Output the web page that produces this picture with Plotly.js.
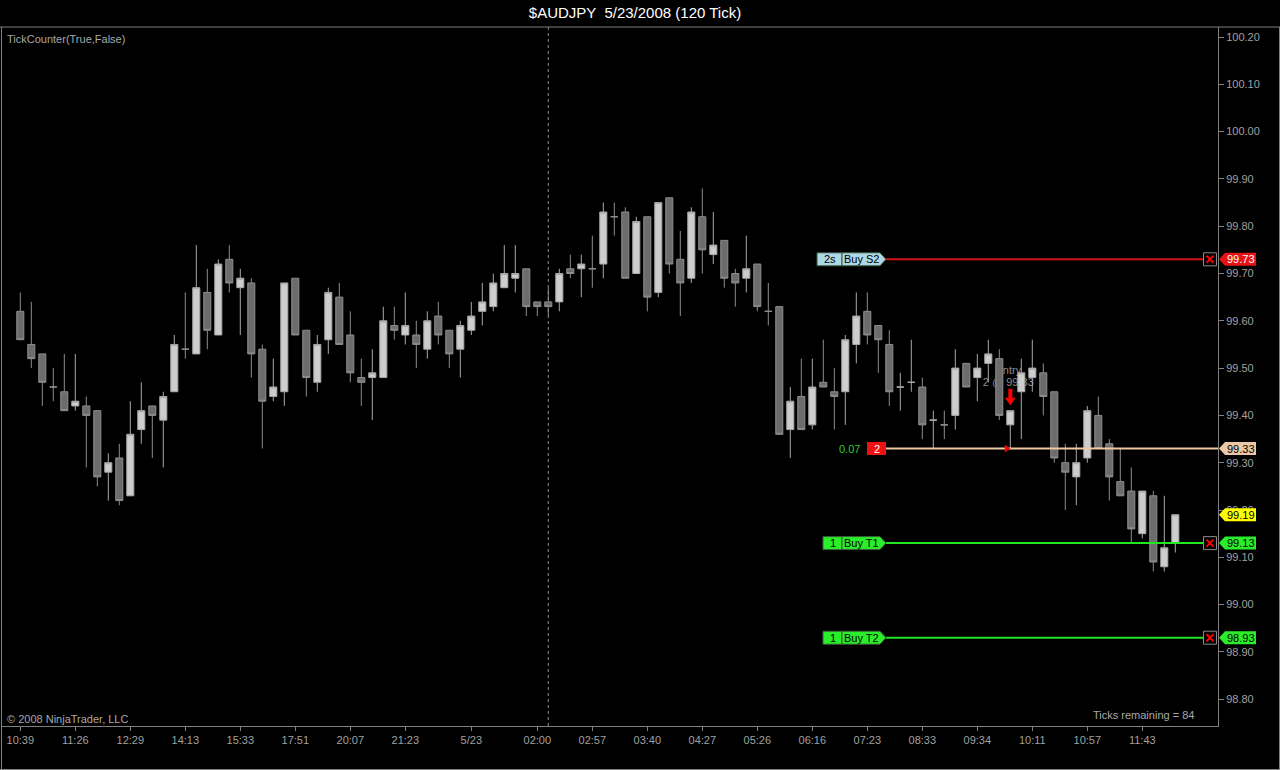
<!DOCTYPE html>
<html><head><meta charset="utf-8">
<script src="https://cdn.plot.ly/plotly-3.0.1.min.js"></script>
<style>html,body{margin:0;padding:0;background:#000;overflow:hidden}#chart{width:1280px;height:770px}</style>
</head><body><div id="chart"></div>
<script>
// ---------------- data ----------------
const tickIndex  = [0,5,10,15,20,25,30,35,41,47,52,57,62,67,72,77,82,87,92,97,102];
const tickLabels = ['10:39','11:26','12:29','14:13','15:33','17:51','20:07','21:23','5/23','02:00','02:57','03:40','04:27','05:26','06:16','07:23','08:33','09:34','10:11','10:57','11:43'];

const open = [99.62,99.55,99.53,99.46,99.45,99.42,99.42,99.41,99.28,99.31,
99.23,99.37,99.42,99.39,99.45,99.54,99.53,99.66,99.57,99.73,
99.67,99.68,99.54,99.44,99.45,99.69,99.58,99.47,99.56,99.65,
99.57,99.48,99.48,99.48,99.59,99.57,99.57,99.54,99.61,99.58,
99.54,99.58,99.62,99.63,99.67,99.69,99.71,99.64,99.64,99.64,
99.71,99.71,99.71,99.72,99.82,99.83,99.70,99.82,99.66,99.86,
99.73,99.69,99.82,99.74,99.77,99.70,99.69,99.72,99.62,99.63,
99.37,99.44,99.38,99.47,99.45,99.45,99.55,99.62,99.59,99.55,
99.46,99.47,99.46,99.39,99.38,99.40,99.51,99.48,99.51,99.52,
99.38,99.45,99.48,99.49,99.45,99.30,99.27,99.31,99.40,99.34,
99.26,99.24,99.15,99.23,99.08,99.13];
const high = [99.66,99.64,99.53,99.50,99.53,99.53,99.44,99.41,99.32,99.34,
99.43,99.47,99.42,99.45,99.57,99.66,99.76,99.71,99.73,99.76,
99.71,99.69,99.55,99.52,99.68,99.69,99.58,99.57,99.67,99.68,
99.62,99.52,99.54,99.63,99.63,99.66,99.60,99.62,99.64,99.58,
99.60,99.64,99.68,99.70,99.76,99.76,99.71,99.64,99.67,99.71,
99.74,99.74,99.78,99.85,99.85,99.84,99.82,99.82,99.85,99.86,
99.79,99.84,99.88,99.83,99.77,99.71,99.78,99.72,99.68,99.63,
99.46,99.52,99.52,99.56,99.50,99.57,99.66,99.66,99.59,99.58,
99.49,99.56,99.48,99.41,99.41,99.54,99.51,99.53,99.56,99.54,
99.41,99.52,99.56,99.51,99.45,99.34,99.34,99.42,99.44,99.35,
99.33,99.29,99.24,99.24,99.23,99.19];
const low = [99.56,99.50,99.42,99.43,99.41,99.41,99.29,99.25,99.22,99.21,
99.23,99.34,99.31,99.29,99.45,99.52,99.53,99.54,99.57,99.66,
99.57,99.48,99.33,99.43,99.42,99.57,99.44,99.45,99.53,99.55,
99.47,99.42,99.39,99.48,99.56,99.55,99.50,99.52,99.55,99.50,
99.48,99.57,99.59,99.62,99.67,99.66,99.61,99.61,99.61,99.62,
99.69,99.65,99.67,99.69,99.78,99.69,99.70,99.62,99.65,99.70,
99.61,99.68,99.70,99.72,99.67,99.63,99.66,99.62,99.59,99.36,
99.31,99.37,99.37,99.46,99.37,99.38,99.51,99.55,99.49,99.42,
99.41,99.45,99.35,99.33,99.35,99.37,99.46,99.43,99.47,99.39,
99.33,99.35,99.45,99.40,99.30,99.20,99.21,99.30,99.33,99.22,
99.23,99.13,99.14,99.07,99.07,99.11];
const close = [99.56,99.52,99.47,99.46,99.41,99.43,99.40,99.27,99.30,99.22,
99.36,99.41,99.40,99.44,99.55,99.54,99.67,99.58,99.72,99.68,
99.69,99.53,99.43,99.46,99.68,99.57,99.48,99.55,99.66,99.55,
99.49,99.47,99.49,99.60,99.58,99.59,99.55,99.60,99.57,99.53,
99.59,99.61,99.64,99.68,99.70,99.70,99.63,99.63,99.63,99.70,
99.70,99.72,99.71,99.83,99.82,99.69,99.81,99.65,99.85,99.72,
99.68,99.83,99.75,99.76,99.69,99.68,99.71,99.63,99.62,99.36,
99.43,99.37,99.46,99.46,99.44,99.56,99.61,99.57,99.56,99.45,
99.46,99.47,99.38,99.39,99.38,99.50,99.46,99.50,99.53,99.40,
99.41,99.49,99.50,99.44,99.31,99.28,99.30,99.41,99.33,99.27,
99.23,99.16,99.24,99.09,99.12,99.19];

const orderQty    = ['2s','1','1'];
const orderNames  = ['Buy S2','Buy T1','Buy T2'];
const orderPrices = [99.73, 99.13, 98.93];
const entryPrice = 99.33, entryQty = '2', entryPnl = '0.07', entryBar = 90;
const lastPrice = 99.19;
const ticksRemaining = 84;
const sessionBreakBar = 48;

// ---------------- geometry ----------------
const L=2, R=1218, T=27, B=726, W=R-L, H=B-T;
const PXC = 11, X0PX = 20.3, PPU = 473;
const XMIN = -(X0PX - L)/PXC, XMAX = XMIN + W/PXC;
const YMAX = 100.20 + (37 - T)/PPU, YMIN = YMAX - H/PPU;
const fx = px => (px - L)/W;
const fy = py => (B - py)/H;
const priceY = p => B - (p - YMIN)*PPU;
const idxX = i => L + (i - XMIN)*PXC;
const toIdx = px => XMIN + (px - L)/PXC;
const toPrice = py => YMIN + (B - py)/PPU;
const FONT = 'Liberation Sans, Arial, sans-serif';

const pathOf = pts => 'M' + pts.map(p => fx(p[0]).toFixed(5) + ',' + fy(p[1]).toFixed(5)).join('L') + 'Z';
const shapes = [], annotations = [];
function poly(pts, fill, line){ shapes.push({type:'path', xref:'paper', yref:'paper', path:pathOf(pts), fillcolor:fill, line:{color:line||fill, width:line?1:0}, layer:'above'}); }
function hline(x0, x1, py, color, w){ shapes.push({type:'line', xref:'paper', yref:'paper', x0:fx(x0), x1:fx(x1), y0:fy(py), y1:fy(py), line:{color:color, width:w}, layer:'above'}); }
function seg(x0,y0,x1,y1,color,w){ shapes.push({type:'line', xref:'paper', yref:'paper', x0:fx(x0), x1:fx(x1), y0:fy(y0), y1:fy(y1), line:{color:color, width:w}, layer:'above'}); }
function txt(text, px, py, color, size, anchor){ annotations.push({xref:'paper', yref:'paper', x:fx(px), y:fy(py), text:text, showarrow:false, xanchor:anchor||'center', yanchor:'middle', font:{family:FONT, size:size||11, color:color}, borderpad:0}); }
function tag(price, fill, tcolor){
  const cy = priceY(price);
  poly([[1219,cy],[1225,cy-6.5],[1256,cy-6.5],[1256,cy+6.5],[1225,cy+6.5]], fill);
  txt(price.toFixed(2), 1240.5, cy, tcolor, 11);
}
function xbox(cy){
  poly([[1203.5,cy-6.5],[1216.5,cy-6.5],[1216.5,cy+6.5],[1203.5,cy+6.5]], '#000000', '#8a8a8a');
  seg(1206.5,cy-3.5,1213.5,cy+3.5,'#ff0000',2);
  seg(1206.5,cy+3.5,1213.5,cy-3.5,'#ff0000',2);
}

// window frame
const frame = '#7f7f7f';
seg(0, T, 1280, T, frame, 1);
seg(1.5, T, 1.5, 769.5, frame, 1);
seg(1279.5, T, 1279.5, 769.5, frame, 1);
seg(0, 769.5, 1280, 769.5, frame, 1);

// session break dotted line
shapes.push({type:'line', xref:'x', yref:'paper', x0:sessionBreakBar, x1:sessionBreakBar, y0:0, y1:1, line:{color:'#8a8a8a', width:1, dash:'dot'}, layer:'below'});

// entry label (under the bars)
const ecx = idxX(entryBar) - 2, ecy = priceY(entryPrice);
[['Entry', ecy-80], [entryQty + ' @ ' + entryPrice.toFixed(2), ecy-67.5]].forEach(([t, py]) => {
  shapes.push({type:'rect', xref:'x', yref:'y', x0:toIdx(ecx-30), x1:toIdx(ecx+30), y0:toPrice(py+6), y1:toPrice(py-6),
    line:{width:0, color:'rgba(0,0,0,0)'}, fillcolor:'rgba(0,0,0,0)', layer:'below',
    label:{text:t, font:{family:FONT, size:11, color:'#8c8c8c'}, textposition:'middle center'}});
});

// order lines
const orderStyle = [
  {label:'#add8e6', line:'#d41414', tag:'#e81414', tcol:'#ffffff'},
  {label:'#2aee2a', line:'#22e622', tag:'#2aee2a', tcol:'#000000'},
  {label:'#2aee2a', line:'#22e622', tag:'#2aee2a', tcol:'#000000'}
];
orderPrices.forEach((p, k) => {
  const cy = priceY(p), st = orderStyle[k];
  hline(886, 1203.5, cy, st.line, 2);
  const qx0 = 842 - (orderQty[k].length > 1 ? 25 : 19);
  poly([[qx0,cy-6.5],[842,cy-6.5],[842,cy+6.5],[qx0,cy+6.5]], st.label, '#3c5a3c');
  poly([[842,cy-6.5],[880,cy-6.5],[886,cy],[880,cy+6.5],[842,cy+6.5]], st.label, '#3c5a3c');
  txt(orderQty[k], (qx0+842)/2, cy, '#000000', 11);
  txt(orderNames[k], 861, cy, '#000000', 11);
  xbox(cy);
  tag(p, st.tag, st.tcol);
});

// entry line
hline(886, 1218, ecy, '#f0c8a0', 2);
poly([[867,ecy-6.5],[886,ecy-6.5],[886,ecy+6.5],[867,ecy+6.5]], '#ee1111');
txt(entryQty, 876.5, ecy, '#ffffff', 11);
txt(entryPnl, 849.5, ecy, '#2ecc2e', 11);
tag(entryPrice, '#ebc7a5', '#000000');
// execution markers
const ax = idxX(entryBar), hy = priceY(high[entryBar]);
poly([[ax-2,hy-22],[ax+2,hy-22],[ax+2,hy-13],[ax+5.5,hy-13],[ax,hy-5.5],[ax-5.5,hy-13],[ax-2,hy-13]], '#ff0000');
poly([[ax-5.5,ecy-4],[ax,ecy],[ax-5.5,ecy+4]], '#ff0000');

// last price
tag(lastPrice, '#ffff00', '#000000');

// texts
txt('TickCounter(True,False)', 6, 38.5, '#a8a8a8', 11, 'left');
txt('\u00a9 2008 NinjaTrader, LLC', 6, 719, '#a8a8a8', 11, 'left');
txt('Ticks remaining = ' + ticksRemaining, 1195, 714.5, '#a8a8a8', 11, 'right');

const idx = open.map((_, i) => i);
const trace = {
  type:'candlestick', x:idx, open:open, high:high, low:low, close:close,
  increasing:{line:{color:'#a8a8a8', width:1}, fillcolor:'#cdcdcd'},
  decreasing:{line:{color:'#8e8e8e', width:1}, fillcolor:'#6c6c6c'},
  whiskerwidth:0, hoverinfo:'skip', showlegend:false
};

const axisGray = '#808080';
const layout = {
  width:1280, height:770,
  margin:{l:L, r:1280-R, t:T, b:770-B, pad:0},
  paper_bgcolor:'#000000', plot_bgcolor:'#000000',
  showlegend:false, hovermode:false,
  boxgap:0.36, boxgroupgap:0,
  title:{text:'$AUDJPY \u00a05/23/2008 (120 Tick)', font:{family:FONT, size:15, color:'#ffffff'},
         x:635/1280, xref:'container', xanchor:'center', y:1-13/770, yref:'container', yanchor:'middle'},
  xaxis:{range:[XMIN, XMAX], tickmode:'array', tickvals:tickIndex, ticktext:tickLabels,
         ticks:'outside', ticklen:4, tickcolor:axisGray, showline:true, linecolor:axisGray, linewidth:1,
         showgrid:false, zeroline:false, rangeslider:{visible:false}, fixedrange:true,
         tickfont:{family:FONT, size:11, color:'#a0a0a0'}},
  yaxis:{range:[YMIN, YMAX], side:'right', tick0:98.8, dtick:0.1, tickformat:'.2f',
         ticks:'outside', ticklen:5, tickcolor:axisGray, showline:true, linecolor:axisGray, linewidth:1,
         showgrid:false, zeroline:false, fixedrange:true,
         tickfont:{family:FONT, size:11, color:'#a0a0a0'}},
  shapes:shapes, annotations:annotations
};
Plotly.newPlot('chart', [trace], layout, {displayModeBar:false, staticPlot:true});
</script>
</body></html>
